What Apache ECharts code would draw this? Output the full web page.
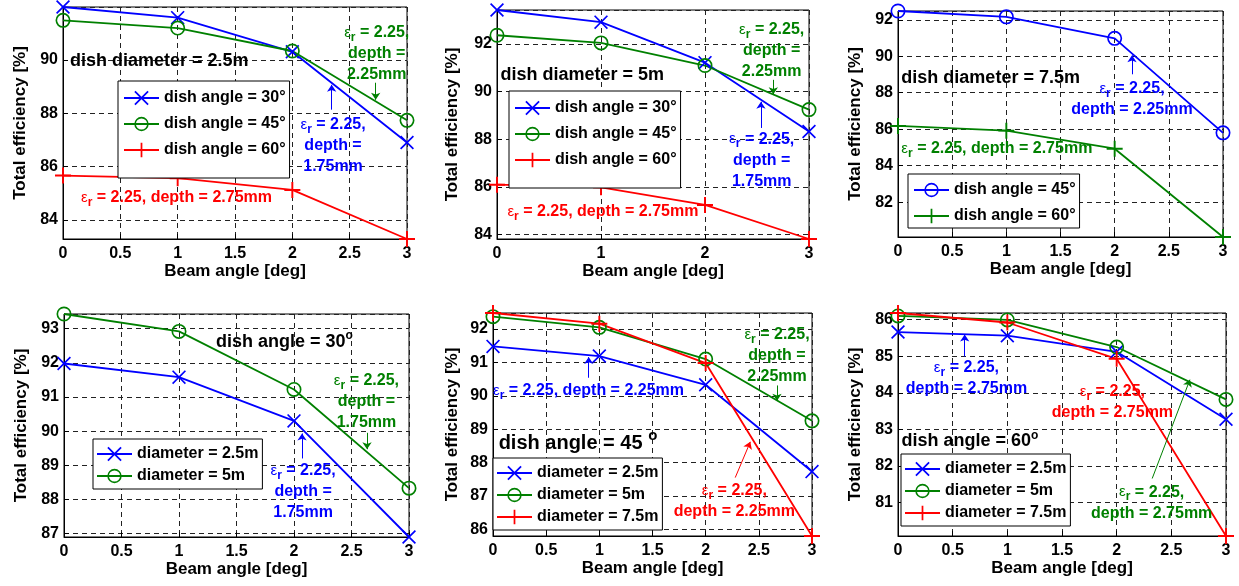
<!DOCTYPE html>
<html>
<head>
<meta charset="utf-8">
<title>Total efficiency vs beam angle</title>
<script src="https://cdn.jsdelivr.net/npm/echarts@6/dist/echarts.min.js"></script>
<style>
  html, body { margin: 0; padding: 0; background: #fff; }
  #chart { width: 1239px; height: 586px; }
</style>
</head>
<body>
<div id="chart"></div>
<script>
const beamAngles = [0, 1, 2, 3]

// total efficiency [%] by dish diameter / dish angle
const d25a30 = [91.98, 91.58, 90.30, 86.90]
const d25a45 = [91.48, 91.19, 90.33, 87.73]
const d25a60 = [85.66, 85.56, 85.12, 83.28]
const d5a30 = [93.43, 92.92, 91.22, 88.33]
const d5a45 = [92.37, 92.05, 91.10, 89.25]
const d5a60 = [86.10, 85.99, 85.25, 83.82]
const d75a45 = [92.48, 92.16, 90.98, 85.80]
const d75a60 = [86.18, 85.92, 84.93, 80.09]

// tick steps per panel
const xTickStep = [0.5, 1, 0.5, 0.5, 0.5, 0.5]
const yTickStep = [2, 2, 2, 1, 1, 1]

const BLUE = '#0000ff'
const GREEN = '#008000'
const RED = '#ff0000'
const BLACK = '#000000'
const FONT = "'Liberation Sans', Arial, Helvetica, sans-serif"

const SYM = {
    x: 'path://M0,0.85L0.85,0L5,4.15L9.15,0L10,0.85L5.85,5L10,9.15L9.15,10L5,5.85L0.85,10L0,9.15L4.15,5Z',
    o: 'path://M0,5A5,5,0,1,1,10,5A5,5,0,1,1,0,5ZM1.1,5A3.9,3.9,0,1,0,8.9,5A3.9,3.9,0,1,0,1.1,5Z',
    p: 'path://M4.4,0H5.6V4.4H10V5.6H5.6V10H4.4V5.6H0V4.4H4.4Z'
}
const SYM_SIZE = { x: 14, o: 15, p: 16 }

// [legend label, values, marker, colour]
const panels = [
    [['dish angle = 30°', d25a30, 'x', BLUE], ['dish angle = 45°', d25a45, 'o', GREEN], ['dish angle = 60°', d25a60, 'p', RED]],
    [['dish angle = 30°', d5a30, 'x', BLUE], ['dish angle = 45°', d5a45, 'o', GREEN], ['dish angle = 60°', d5a60, 'p', RED]],
    [['dish angle = 45°', d75a45, 'o', BLUE], ['dish angle = 60°', d75a60, 'p', GREEN]],
    [['diameter = 2.5m', d25a30, 'x', BLUE], ['diameter = 5m', d5a30, 'o', GREEN]],
    [['diameter = 2.5m', d25a45, 'x', BLUE], ['diameter = 5m', d5a45, 'o', GREEN], ['diameter = 7.5m', d75a45, 'p', RED]],
    [['diameter = 2.5m', d25a60, 'x', BLUE], ['diameter = 5m', d5a60, 'o', GREEN], ['diameter = 7.5m', d75a60, 'p', RED]]
]

const grids = [
    { left: 63, top: 7, width: 344, height: 232 },
    { left: 497, top: 10, width: 312, height: 229 },
    { left: 898, top: 11, width: 325, height: 226 },
    { left: 64, top: 314, width: 345, height: 223 },
    { left: 493, top: 313, width: 319, height: 223 },
    { left: 898, top: 313, width: 328, height: 223 }
]
const legendPos = [[118, 81], [509, 91], [908, 174], [93, 439], [493, 458], [901, 454]]
const legendPad = [[9, 4, 20, 5], [9, 4, 20, 5], [8, 4, 4, 5], [7, 4, 5, 3], [7, 4, 5, 3], [7, 4, 5, 3]]
const xNameGap = [17, 21, 23, 23, 22, 24]
const yNameGap = [34, 36, 34, 34, 32, 34]

// arrows: [panel, series, x1, y1, x2, y2]
const arrows = [
    [0, 1, 2.727, 89.14, 2.727, 88.5],
    [0, 0, 2.343, 88.13, 2.343, 89.06],
    [1, 1, 2.657, 90.5, 2.657, 89.89],
    [1, 0, 2.538, 88.48, 2.538, 89.58],
    [2, 0, 2.16, 89.01, 2.16, 90.05],
    [3, 1, 2.635, 89.95, 2.635, 89.47],
    [3, 0, 2.07, 89.2, 2.07, 89.93],
    [4, 0, 0.9, 90.54, 0.9, 91.16],
    [4, 1, 2.671, 90.31, 2.671, 89.85],
    [4, 2, 2.278, 87.55, 2.42, 88.62],
    [5, 0, 0.61, 84.99, 0.61, 85.59],
    [5, 1, 2.325, 81.66, 2.67, 84.36]
]

const EPS = '{e|ε}{s|r}{n| = 2.25,}'
const EPS_LINE = '{e|ε}{s|r}{n| = 2.25, depth = 2.75mm}'
// [panel, x, y, align, colour, text]
const notes = [
    [0, 0.06, 89.94, 'left', BLACK, '{t|dish diameter = 2.5m}'],
    [0, 2.736, 90.22, 'center', GREEN, EPS + '\n{n|depth =}\n{n|2.25mm}'],
    [0, 2.355, 86.79, 'center', BLUE, EPS + '\n{n|depth =}\n{n|1.75mm}'],
    [0, 0.157, 84.83, 'left', RED, EPS_LINE],
    [1, 0.033, 90.71, 'left', BLACK, '{t|dish diameter = 5m}'],
    [1, 2.641, 91.71, 'center', GREEN, EPS + '\n{n|depth =}\n{n|2.25mm}'],
    [1, 2.545, 87.13, 'center', BLUE, EPS + '\n{n|depth =}\n{n|1.75mm}'],
    [1, 0.1, 84.95, 'left', RED, EPS_LINE],
    [2, 0.031, 88.78, 'left', BLACK, '{t|dish diameter = 7.5m}'],
    [2, 2.16, 87.64, 'center', BLUE, EPS + '\n{n|depth = 2.25mm}'],
    [2, 0.031, 84.91, 'left', GREEN, EPS_LINE],
    [3, 1.321, 92.61, 'left', BLACK, '{t|dish angle = 30}{sup|o}'],
    [3, 2.63, 90.87, 'center', GREEN, EPS + '\n{n|depth =}\n{n|1.75mm}'],
    [3, 2.079, 88.22, 'center', BLUE, EPS + '\n{n|depth =}\n{n|1.75mm}'],
    [4, 0.053, 88.57, 'left', BLACK, '{T|dish angle = 45 }{SUP|o}'],
    [4, 0, 90.16, 'left', BLUE, '{e|ε}{s|r}{n| = 2.25, depth = 2.25mm}'],
    [4, 2.671, 91.2, 'center', GREEN, EPS + '\n{n|depth =}\n{n|2.25mm}'],
    [4, 2.27, 86.85, 'center', RED, EPS + '\n{n|depth = 2.25mm}'],
    [5, 0.031, 82.67, 'left', BLACK, '{t|dish angle = 60}{sup|o}'],
    [5, 0.626, 84.39, 'center', BLUE, EPS + '\n{n|depth = 2.75mm}'],
    [5, 1.961, 83.74, 'center', RED, EPS + '\n{n|depth = 2.75mm}'],
    [5, 2.32, 81.0, 'center', GREEN, EPS + '\n{n|depth = 2.75mm}']
]

const richFor = color => {
    const base = { fill: color, fontFamily: FONT, fontWeight: 'bold' }
    return {
        n: { ...base, fontSize: 16, lineHeight: 21 },
        e: { ...base, fontSize: 15, fontWeight: 'normal', lineHeight: 21 },
        s: { ...base, fontSize: 12, lineHeight: 10, padding: [10, 0, 0, 0] },
        t: { ...base, fontSize: 18, lineHeight: 22 },
        sup: { ...base, fontSize: 12, lineHeight: 10, padding: [0, 0, 12, 0] },
        T: { ...base, fontSize: 20, lineHeight: 24 },
        SUP: { ...base, fontSize: 15, lineHeight: 12, padding: [0, 0, 16, 0] }
    }
}

const boldText = size => ({ color: '#000', fontWeight: 'bold', fontSize: size, fontFamily: FONT })
const onStep = (v, step) => Math.abs(v / step - Math.round(v / step)) < 1e-6

const series = []
panels.forEach((lines, i) => {
    lines.forEach(([label, values, mark, color], k) => {
        const arr = arrows.filter(a => a[0] === i && a[1] === k)
        series.push({
            type: 'line',
            name: i + '|' + label,
            xAxisIndex: i,
            yAxisIndex: i,
            data: beamAngles.map((b, j) => [b, values[j]]),
            symbol: SYM[mark],
            symbolSize: SYM_SIZE[mark],
            showAllSymbol: true,
            lineStyle: { color, width: 1.8 },
            itemStyle: { color },
            emphasis: { disabled: true },
            z: 3,
            markLine: arr.length ? {
                silent: true,
                symbol: ['none', 'arrow'],
                symbolSize: 7,
                label: { show: false },
                lineStyle: { color, width: 1, type: 'solid' },
                emphasis: { disabled: true },
                data: arr.map(a => [{ coord: [a[2], a[3]] }, { coord: [a[4], a[5]] }])
            } : undefined
        })
    })
})

const option = {
    animation: false,
    backgroundColor: '#fff',
    grid: grids.map(g => ({ ...g, show: true, borderColor: '#000', borderWidth: 1, backgroundColor: 'transparent', containLabel: false, outerBoundsMode: 'none' })),
    xAxis: grids.map((g, i) => ({
        type: 'value',
        gridIndex: i,
        min: 0,
        max: 3,
        interval: xTickStep[i],
        axisLine: { show: true, onZero: false, lineStyle: { color: '#000', width: 1 } },
        axisTick: { show: true, inside: true, length: 5, lineStyle: { color: '#000' } },
        axisLabel: { ...boldText(16), margin: 7 },
        splitLine: { show: true, lineStyle: { color: '#222', width: 1, type: [5, 4] } },
        name: 'Beam angle [deg]',
        nameLocation: 'middle',
        nameGap: xNameGap[i],
        nameTextStyle: boldText(17)
    })),
    yAxis: grids.map((g, i) => ({
        type: 'value',
        gridIndex: i,
        min: 'dataMin',
        max: 'dataMax',
        minInterval: yTickStep[i],
        maxInterval: yTickStep[i],
        axisLine: { show: true, onZero: false, lineStyle: { color: '#000', width: 1 } },
        axisTick: { show: true, inside: true, length: 5, lineStyle: { color: '#000' } },
        axisLabel: {
            ...boldText(16),
            margin: 5,
            showMinLabel: true,
            showMaxLabel: true,
            formatter: v => onStep(v, yTickStep[i]) ? String(Math.round(v)) : ''
        },
        splitLine: { show: true, lineStyle: { color: '#222', width: 1, type: [5, 4] } },
        name: 'Total efficiency [%]',
        nameLocation: 'middle',
        nameGap: yNameGap[i],
        nameTextStyle: boldText(17)
    })),
    legend: panels.map((lines, i) => ({
        data: lines.map(l => i + '|' + l[0]),
        left: legendPos[i][0],
        top: legendPos[i][1],
        orient: 'vertical',
        selectedMode: false,
        itemWidth: 35,
        itemHeight: 18,
        itemGap: i < 3 ? 10 : 6,
        padding: legendPad[i],
        backgroundColor: '#fff',
        borderColor: '#000',
        borderWidth: 1,
        borderRadius: 0,
        formatter: n => n.split('|')[1],
        textStyle: boldText(16)
    })),
    series
}

const chart = echarts.init(document.getElementById('chart'))
chart.setOption(option)

const graphic = notes.map(([p, x, y, align, color, text]) => {
    const [px, py] = chart.convertToPixel({ gridIndex: p }, [x, y])
    return {
        type: 'text',
        x: px,
        y: py,
        silent: true,
        z: 50,
        style: { text, align, verticalAlign: 'middle', fill: color, rich: richFor(color) }
    }
})
chart.setOption({ graphic })
</script>
</body>
</html>
